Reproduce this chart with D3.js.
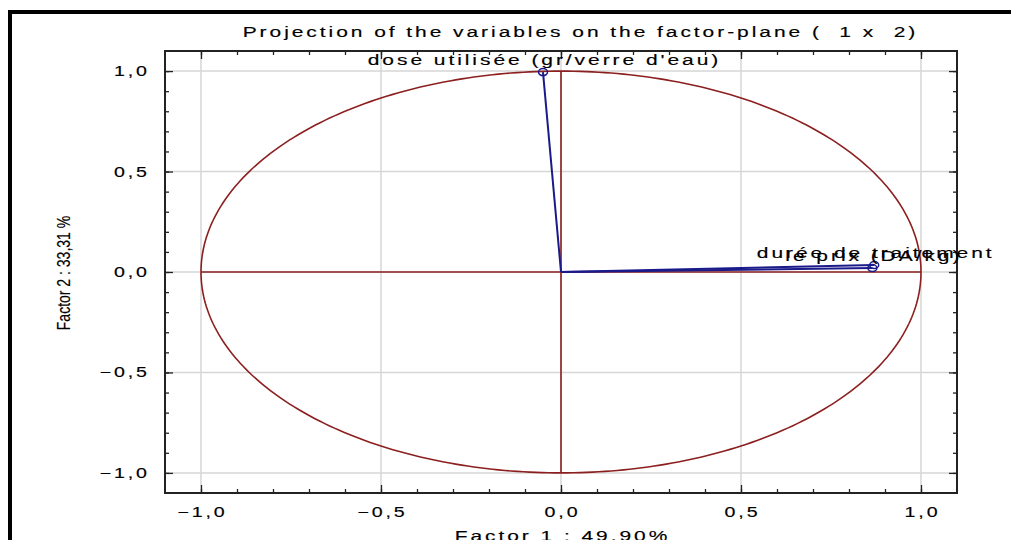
<!DOCTYPE html>
<html><head><meta charset="utf-8">
<script src="https://cdn.jsdelivr.net/npm/d3@7"></script>
<style>
html,body{margin:0;padding:0;background:#fff;}
svg{display:block;font-family:"Liberation Sans",Arial,sans-serif;}
text{white-space:pre;}
</style></head>
<body>
<svg id="c" width="1011" height="540"></svg>
<script>
// ---- data ----
const variableNames = ["dose utilisée (gr/verre d'eau)", "durée de traitement", "le prix (DA/kg)"];
const factor1 = [-0.05, 0.870, 0.865];
const factor2 = [0.995, 0.035, 0.020];
const majorTicks = [-1, -0.5, 0, 0.5, 1];
const tickLabels = ["−1,0", "−0,5", "0,0", "0,5", "1,0"];
const minorTicks = d3.range(-10, 11).map(d => d / 10);
const titleText = "Projection of the variables on the factor-plane (  1 x  2)";
const xTitle = "Factor 1 : 49,90%";
const yTitle = "Factor 2 : 33,31 %";

// ---- layout ----
const svg = d3.select("#c");
const SX = 1.4;           // horizontal glyph stretch of the original screenshot
const LS = 2.1;           // letter spacing (unscaled units)
const x = d3.scaleLinear().domain([-1.1, 1.1]).range([165, 957]);
const y = d3.scaleLinear().domain([-1.1, 1.1]).range([493, 51]);
const red = "#8c1f1f", blue = "#1a1a8a", grid = "#d6d6d6";

function stext(px, py, str, anchor, size) {
  const g = svg.append("g").attr("transform", `translate(${px},${py}) scale(${SX},1)`);
  const t = g.append("text").attr("text-anchor", anchor)
    .attr("font-size", size).attr("letter-spacing", LS).attr("fill", "#000")
    .attr("stroke", "#000").attr("stroke-width", 0.15).text(str);
  if (anchor === "middle") t.attr("x", LS / 2);
  if (anchor === "end") t.attr("x", LS);
  return t;
}

// outer border (top & left visible)
svg.append("rect").attr("x", 10).attr("y", 12).attr("width", 1100).attr("height", 600)
  .attr("fill", "none").attr("stroke", "#000").attr("stroke-width", 4);

// gridlines
svg.append("g").selectAll("line").data(majorTicks).join("line")
  .attr("x1", d => x(d)).attr("x2", d => x(d)).attr("y1", y.range()[1]).attr("y2", y.range()[0])
  .attr("stroke", grid).attr("stroke-width", 1.5);
svg.append("g").selectAll("line").data(majorTicks).join("line")
  .attr("y1", d => y(d)).attr("y2", d => y(d)).attr("x1", x.range()[0]).attr("x2", x.range()[1])
  .attr("stroke", grid).attr("stroke-width", 1.5);

// axes ticks (inward on all four sides)
const [x0, x1] = x.range(), [y0, y1] = [y.range()[1], y.range()[0]];
function addAxis(axisFn, scale, ticks, size, transform) {
  const g = svg.append("g").attr("transform", transform)
    .call(axisFn(scale).tickValues(ticks).tickSize(size).tickSizeOuter(0).tickFormat(""));
  g.select(".domain").remove();
  g.selectAll("line").attr("stroke", "#222").attr("stroke-width", 1.3);
}
addAxis(d3.axisBottom, x, minorTicks, -4, `translate(0,${y1})`);
addAxis(d3.axisBottom, x, majorTicks, -8, `translate(0,${y1})`);
addAxis(d3.axisTop, x, minorTicks, -4, `translate(0,${y0})`);
addAxis(d3.axisTop, x, majorTicks, -8, `translate(0,${y0})`);
addAxis(d3.axisLeft, y, minorTicks, -4, `translate(${x0},0)`);
addAxis(d3.axisLeft, y, majorTicks, -8, `translate(${x0},0)`);
addAxis(d3.axisRight, y, minorTicks, -4, `translate(${x1},0)`);
addAxis(d3.axisRight, y, majorTicks, -8, `translate(${x1},0)`);

// frame
svg.append("rect").attr("x", x0).attr("y", y0).attr("width", x1 - x0).attr("height", y1 - y0)
  .attr("fill", "none").attr("stroke", "#222").attr("stroke-width", 2);

// unit circle and axes through origin
const circ = d3.range(0, 361, 1).map(a => [Math.cos(a * Math.PI / 180), Math.sin(a * Math.PI / 180)]);
svg.append("path").datum(circ)
  .attr("d", d3.line().x(d => x(d[0])).y(d => y(d[1])))
  .attr("fill", "none").attr("stroke", red).attr("stroke-width", 1.6);
svg.append("line").attr("x1", x(-1)).attr("x2", x(1)).attr("y1", y(0)).attr("y2", y(0))
  .attr("stroke", red).attr("stroke-width", 1.6);
svg.append("line").attr("x1", x(0)).attr("x2", x(0)).attr("y1", y(-1)).attr("y2", y(1))
  .attr("stroke", red).attr("stroke-width", 1.6);

// vectors
const pts = variableNames.map((n, i) => ({ n, f1: factor1[i], f2: factor2[i] }));
svg.append("g").selectAll("line").data(pts).join("line")
  .attr("x1", x(0)).attr("y1", y(0)).attr("x2", d => x(d.f1)).attr("y2", d => y(d.f2))
  .attr("stroke", blue).attr("stroke-width", 2);
svg.append("g").selectAll("ellipse").data(pts).join("ellipse")
  .attr("cx", d => x(d.f1)).attr("cy", d => y(d.f2)).attr("rx", 4.5).attr("ry", 3.5)
  .attr("fill", "none").attr("stroke", blue).attr("stroke-width", 1.5);
pts.forEach(d => stext(x(d.f1), y(d.f2) - 7, d.n, "middle", 15));

// tick labels
majorTicks.forEach((v, i) => {
  stext(x(v), 517, tickLabels[i], "middle", 14);
  stext(147, y(v) + 5, tickLabels[i], "end", 14);
});

// titles
stext(579, 37, titleText, "middle", 15);
stext(x(0), 541, xTitle, "middle", 15);
svg.append("text").attr("transform", `translate(70,273) rotate(-90) scale(1,1.35)`)
  .attr("text-anchor", "middle").attr("font-size", 14).attr("fill", "#000")
  .attr("stroke", "#000").attr("stroke-width", 0.1).text(yTitle);
</script>
</body></html>
